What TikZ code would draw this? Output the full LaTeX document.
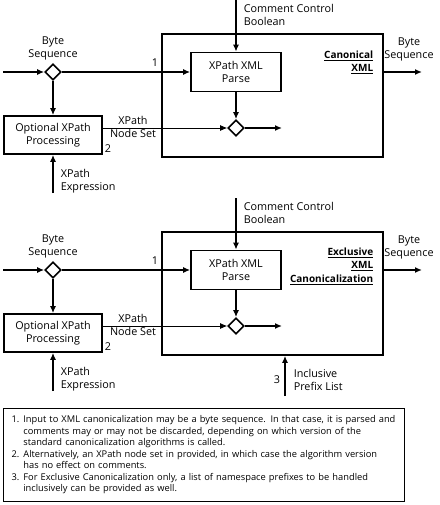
\documentclass[tikz,border=0pt]{standalone}
\usepackage{fontspec}
\setmainfont{Open Sans}
\usetikzlibrary{arrows.meta,positioning,calc,shapes.geometric}

\begin{document}
\begin{tikzpicture}[x=1pt,y=-1pt,font=\fontsize{10.8}{13}\selectfont,line width=1.6pt,
  >={Latex[length=7pt,width=6pt]},
  box/.style={draw,rectangle,inner sep=0pt,align=center},
  dmd/.style={draw,diamond,minimum size=16pt,inner sep=0pt},
  lbl/.style={align=center,inner sep=0pt},
  lbll/.style={align=left,anchor=west,inner sep=0pt},
  title/.style={font=\fontsize{10}{13.5}\selectfont\bfseries,align=right,anchor=north east,inner sep=0pt}]
  \useasboundingbox (0,0) rectangle (439,505);

  \node[box,minimum width=221pt,minimum height=123pt] (bigA) at (272.5,95.5) {};
  \node[box,minimum width=90pt,minimum height=39pt] (parseA) at (236,72) {XPath XML\\Parse};
  \node[dmd] (splitA) at (53,72) {};
  \node[dmd] (joinA) at (236,128) {};
  \node[box,minimum width=98pt,minimum height=38pt] (optA) at (53,135) {Optional XPath\\Processing};
  \node[title] (nameA) at (374,50) {\underline{Canonical}\\\underline{XML}};
  \coordinate (inA) at (3,72);
  \coordinate (ccA) at (236,0);
  \coordinate (xpA) at (53,193);
  \coordinate (endA) at (282,128);
  \coordinate (outA) at (422,72);
  \draw[->] (inA) -- (splitA.west);
  \draw[->] (splitA.east) -- (parseA.west);
  \draw[->] (splitA.south) -- (optA.north);
  \draw[->] (xpA) -- (optA.south);
  \draw[->] (ccA) -- (parseA.north);
  \draw[->] (parseA.south) -- (joinA.north);
  \draw[->,line width=0.9pt] (optA.east |- joinA.west) -- (joinA.west);
  \draw[->] (joinA.east) -- (endA);
  \draw[->] (outA -| bigA.east) -- (outA);
  \node[lbl] (bsA) at (53,48) {Byte\\Sequence};
  \node[lbl] (oneA) at (155,63) {1};
  \node[lbl] (twoA) at (108,149) {2};
  \node[lbl] (nsA) at (133,127) {XPath\\Node Set};
  \node[lbll] (xpeA) at (60,181) {XPath\\Expression};
  \node[lbll] (cctA) at (243,15) {Comment Control\\Boolean};
  \node[lbl] (bsoA) at (409,49) {Byte\\Sequence};

  \node[box,minimum width=221pt,minimum height=123pt] (bigB) at (272.5,293.5) {};
  \node[box,minimum width=90pt,minimum height=39pt] (parseB) at (236,270) {XPath XML\\Parse};
  \node[dmd] (splitB) at (53,270) {};
  \node[dmd] (joinB) at (236,326) {};
  \node[box,minimum width=98pt,minimum height=38pt] (optB) at (53,333) {Optional XPath\\Processing};
  \node[title] (nameB) at (374,247) {\underline{Exclusive}\\\underline{XML}\\\underline{Canonicalization}};
  \coordinate (inB) at (3,270);
  \coordinate (ccB) at (236,198);
  \coordinate (xpB) at (53,391);
  \coordinate (endB) at (282,326);
  \coordinate (outB) at (422,270);
  \coordinate (inclB) at (285,396);
  \draw[->] (inB) -- (splitB.west);
  \draw[->] (splitB.east) -- (parseB.west);
  \draw[->] (splitB.south) -- (optB.north);
  \draw[->] (xpB) -- (optB.south);
  \draw[->] (ccB) -- (parseB.north);
  \draw[->] (parseB.south) -- (joinB.north);
  \draw[->,line width=0.9pt] (optB.east |- joinB.west) -- (joinB.west);
  \draw[->] (joinB.east) -- (endB);
  \draw[->] (outB -| bigB.east) -- (outB);
  \draw[->] (inclB) -- (inclB |- bigB.south);
  \node[lbl] (bsB) at (53,246) {Byte\\Sequence};
  \node[lbl] (oneB) at (155,261) {1};
  \node[lbl] (twoB) at (108,347) {2};
  \node[lbl] (threeB) at (277,380) {3};
  \node[lbl] (nsB) at (133,325) {XPath\\Node Set};
  \node[lbll] (xpeB) at (60,379) {XPath\\Expression};
  \node[lbll] (cctB) at (243,213) {Comment Control\\Boolean};
  \node[lbl] (bsoB) at (409,247) {Byte\\Sequence};
  \node[lbll] (inclL) at (293,380) {Inclusive\\Prefix List};

  \node[draw,line width=1.2pt,anchor=north west,minimum width=401pt,minimum height=93pt,
    inner xsep=8pt,text width=385pt,align=left,font=\fontsize{9.3}{11.5}\selectfont] (notes) at (3,408)
    {\begin{tabular}{@{}r@{\hspace{4pt}}l@{}}
    1. & Input to XML canonicalization may be a byte sequence. In that case, it is parsed and\\
       & comments may or may not be discarded, depending on which version of the\\
       & standard canonicalization algorithms is called.\\
    2. & Alternatively, an XPath node set in provided, in which case the algorithm version\\
       & has no effect on comments.\\
    3. & For Exclusive Canonicalization only, a list of namespace prefixes to be handled\\
       & inclusively can be provided as well.
    \end{tabular}};
\end{tikzpicture}
\end{document}
